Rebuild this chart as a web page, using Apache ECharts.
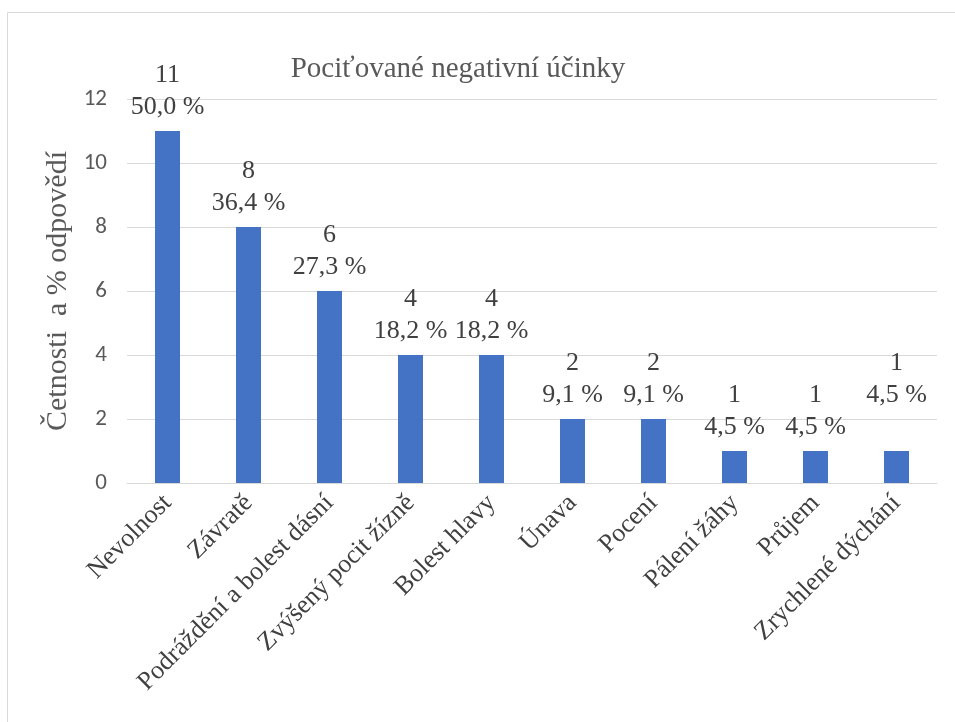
<!DOCTYPE html>
<html>
<head>
<meta charset="utf-8">
<script src="https://cdn.jsdelivr.net/npm/echarts@6/dist/echarts.min.js"></script>
<style>
  html, body { margin: 0; padding: 0; background: #fff; }
  #chart { width: 955px; height: 722px; }
</style>
</head>
<body>
<div id="chart"></div>
<script>
// Reported negative effects: counts and share of responses
const categories = ['Nevolnost', 'Závratě', 'Podráždění a bolest dásní', 'Zvýšený pocit žízně',
  'Bolest hlavy', 'Únava', 'Pocení', 'Pálení žáhy', 'Průjem', 'Zrychlené dýchání'];
const counts = [11, 8, 6, 4, 4, 2, 2, 1, 1, 1];
const percents = ['50,0 %', '36,4 %', '27,3 %', '18,2 %', '18,2 %', '9,1 %', '9,1 %', '4,5 %', '4,5 %', '4,5 %'];
const yTicks = [0, 2, 4, 6, 8, 10, 12];

const serif = '"Liberation Serif", "Times New Roman", serif';
const sans = 'Carlito, "Liberation Sans", "Noto Sans", sans-serif';

const seriesData = counts.map((v, i) => {
  const item = { value: v };
  if (i === counts.length - 1) item.label = { offset: [0, -32] };
  return item;
});

const chart = echarts.init(document.getElementById('chart'), null, { renderer: 'canvas' });
chart.setOption({
  animation: false,
  backgroundColor: '#fff',
  title: {
    text: 'Pociťované negativní účinky',
    left: 453, top: 50, textAlign: 'center',
    textStyle: { fontFamily: serif, fontSize: 29, fontWeight: 'normal', color: '#595959' }
  },
  graphic: [{
    type: 'rect', silent: true,
    shape: { x: 7.5, y: 12.5, width: 1000, height: 800 },
    style: { fill: 'none', stroke: '#d9d9d9', lineWidth: 1 }
  }],
  grid: { left: 127, right: 18, top: 99, bottom: 239 },
  xAxis: {
    type: 'category',
    data: categories,
    axisTick: { show: false },
    axisLine: { lineStyle: { color: '#d9d9d9', width: 1 } },
    axisLabel: {
      rotate: 45, interval: 0, margin: 16,
      fontFamily: serif, fontSize: 26, color: '#404040'
    }
  },
  yAxis: {
    type: 'value',
    min: yTicks[0], max: yTicks[yTicks.length - 1], interval: 2,
    name: 'Četnosti  a % odpovědí',
    nameLocation: 'middle', nameGap: 50, nameRotate: 90,
    nameTextStyle: { fontFamily: serif, fontSize: 30, color: '#595959' },
    axisLine: { show: false },
    axisTick: { show: false },
    axisLabel: { fontFamily: sans, fontSize: 23, color: '#595959', margin: 20 },
    splitLine: { lineStyle: { color: '#d9d9d9', width: 1 } }
  },
  series: [{
    type: 'bar',
    data: seriesData,
    barWidth: 25,
    itemStyle: { color: '#4472C4' },
    label: {
      show: true, position: 'top', distance: 8,
      fontFamily: serif, fontSize: 26, color: '#404040', lineHeight: 32,
      align: 'center',
      formatter: p => counts[p.dataIndex] + '\n' + percents[p.dataIndex]
    }
  }]
});
</script>
</body>
</html>
